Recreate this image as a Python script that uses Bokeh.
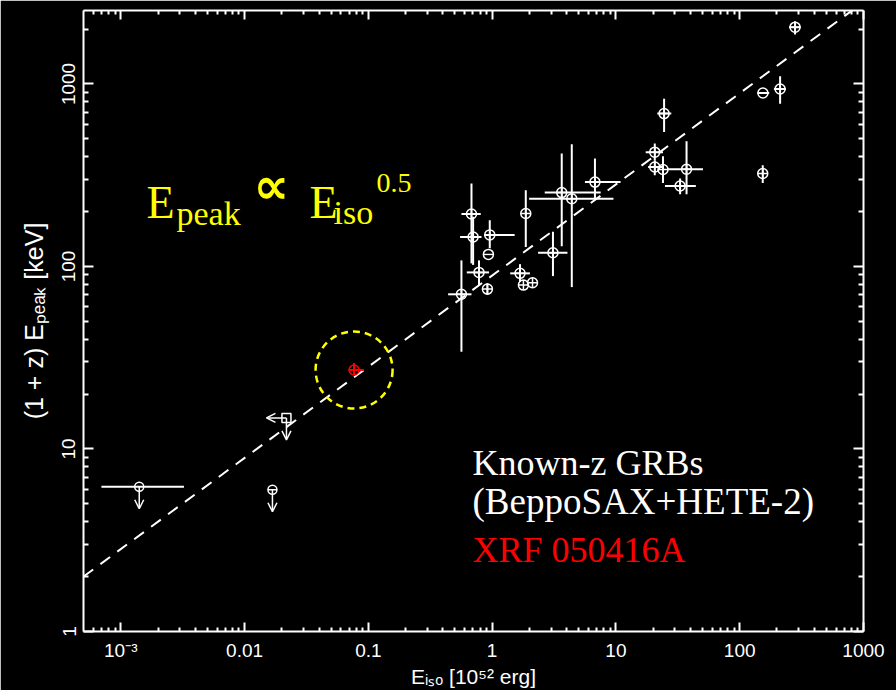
from math import pi
from bokeh.plotting import figure
from bokeh.models import (ColumnDataSource, FixedTicker, LogAxis, CustomJSTickFormatter,
                          Label, Arrow, OpenHead, Range1d)
from bokeh.embed import file_html
from bokeh.resources import INLINE

# ---------------- data ----------------
# Known-z GRBs (BeppoSAX + HETE-2): Eiso [1e52 erg], (1+z) Epeak [keV]
grb_x   = [0.681, 0.702, 0.957, 0.783, 0.916, 0.565, 1.87, 1.68, 1.79, 2.12, 3.10, 3.65, 4.40, 6.77,
           24.5, 20.6, 20.6, 24.0, 37.2, 33.0, 153.5, 212, 280]
grb_y   = [194, 145, 149, 92.8, 75.2, 70.4, 195, 91.7, 79.1, 81.4, 119, 254, 235, 290,
           688, 423, 351, 340, 341, 276, 323, 938, 2048]
grb_xlo = [0.565, 0.551, 0.861, 0.624, 0.916, 0.441, 1.87, 1.40, 1.79, 2.12, 2.35, 2.66, 1.99, 5.62,
           21.6, 17.4, 18.2, 24.0, 26.1, 24.9, 153.5, 189, 250]
grb_xhi = [0.809, 0.820, 1.52, 0.944, 0.916, 0.681, 1.87, 2.02, 1.79, 2.12, 4.06, 7.53, 9.55, 10.9,
           28.0, 24.0, 23.7, 24.0, 50.5, 44.2, 153.5, 236, 311]
grb_ylo = [104, 102, 126, 79.1, 69.8, 34.1, 128, 82.5, 79.1, 81.4, 88.6, 129, 77.1, 231,
           546, 382, 316, 287, 249, 249, 287, 780, 1868]
grb_yhi = [285, 187, 179, 108, 80.9, 108, 262, 103, 79.1, 81.4, 155, 416, 468, 390,
           831, 472, 382, 402, 486, 303, 359, 1101, 2208]

# GRBs drawn with a barred-circle symbol
theta_x   = [0.933, 154]
theta_y   = [116.5, 892]
theta_xlo = [0.933, 139]
theta_xhi = [0.933, 173]

# Upper limits
ul_x   = [1.41e-3, 0.0168, 0.0218]
ul_y   = [6.21, 5.98, 14.8]
ul_xlo = [6.98e-4, 0.0168, 0.0218]
ul_xhi = [3.24e-3, 0.0168, 0.0218]
ul_marker = ["circle", "circle", "square"]
ul_left_arrow_x = [0.0218]      # x upper limit (left arrow)
ul_left_arrow_y = [14.8]

# XRF 050416A
xrf_x, xrf_y = [0.0767], [27.1]
xrf_xlo, xrf_xhi = [0.0695], [0.0922]
xrf_ylo, xrf_yhi = [25.5], [29.6]

# Epeak ~ Eiso^0.5 relation (end points)
fit_x = [5.0e-4, 1000]
fit_y = [2.0, 2810]

x_ticks = [1e-3, 1e-2, 1e-1, 1, 10, 100, 1000]
x_tick_labels = ["10\u207b\u00b3", "0.01", "0.1", "1", "10", "100", "1000"]
y_ticks = [1, 10, 100, 1000]
y_tick_labels = ["1", "10", "100", "1000"]
x_title = "E\u1d62\u209b\u2092 [10\u2075\u00b2 erg]"
y_title = "(1 + z) E\u209a\u2091\u2090\u2096 [keV]"

# ---------------- figure ----------------
L, B = 83, 632   # frame left / bottom in canvas pixels
p = figure(width=896, height=690, x_axis_type="log", y_axis_type="log",
           x_range=Range1d(5.0e-4, 1000), y_range=Range1d(1, 2527),
           output_backend="svg", toolbar_location=None,
           min_border_left=L, min_border_right=896 - 863, min_border_top=10,
           min_border_bottom=690 - B,
           background_fill_color="black", border_fill_color="black",
           outline_line_color=None)
p.grid.visible = False

x_minor = [6e-4, 7e-4, 8e-4, 9e-4] + [k * 10.0 ** e for e in range(-3, 3) for k in range(2, 10)]
y_minor = [k * 10.0 ** e for e in range(0, 3) for k in range(2, 10)] + [2000]

fmt_code = """
let best = 0, bd = Infinity;
for (let i = 0; i < tvals.length; i++) {
  const d = Math.abs(Math.log10(tick) - Math.log10(tvals[i]));
  if (d < bd) { bd = d; best = i; }
}
return tlabels[best];
"""

def style_axis(ax, ticks, minor, labels, maj_len):
    ax.ticker = FixedTicker(ticks=ticks, minor_ticks=minor)
    ax.axis_line_color = "white"
    ax.axis_line_width = 2
    ax.major_tick_line_color = "white"
    ax.major_tick_line_width = 2
    ax.minor_tick_line_color = "white"
    ax.minor_tick_line_width = 2
    ax.major_tick_in = maj_len
    ax.major_tick_out = 0
    ax.minor_tick_in = maj_len // 2
    ax.minor_tick_out = 0
    if labels is not None:
        ax.formatter = CustomJSTickFormatter(args=dict(tvals=ticks, tlabels=labels), code=fmt_code)
        ax.major_label_text_color = "white"
        ax.major_label_text_font = "Liberation Sans"
        ax.major_label_text_font_size = "19px"
        ax.major_label_standoff = 8
    else:
        ax.formatter = CustomJSTickFormatter(code="return '';")
        ax.major_label_text_font_size = "0px"
        ax.major_label_standoff = 0
        ax.axis_label = None

style_axis(p.xaxis[0], x_ticks, x_minor, x_tick_labels, 9)
style_axis(p.yaxis[0], y_ticks, y_minor, y_tick_labels, 10)
p.yaxis[0].major_label_orientation = "vertical"

for ax, title, size, stand in ((p.xaxis[0], x_title, "21px", 1), (p.yaxis[0], y_title, "25px", 12)):
    ax.axis_label = title
    ax.axis_label_text_color = "white"
    ax.axis_label_text_font = "Liberation Sans"
    ax.axis_label_text_font_size = size
    ax.axis_label_text_font_style = "normal"
    ax.axis_label_standoff = stand

top = LogAxis()
style_axis(top, x_ticks, x_minor, None, 9)
p.add_layout(top, "above")
right = LogAxis()
style_axis(right, y_ticks, y_minor, None, 10)
p.add_layout(right, "right")

# relation line
p.line(fit_x, fit_y, line_color="white", line_width=2, line_dash="12 9")

# error bars
p.segment(grb_xlo, grb_y, grb_xhi, grb_y, line_color="white", line_width=2)
p.segment(grb_x, grb_ylo, grb_x, grb_yhi, line_color="white", line_width=2)
p.segment(theta_xlo, theta_y, theta_xhi, theta_y, line_color="white", line_width=2)
p.segment(ul_xlo, ul_y, ul_xhi, ul_y, line_color="white", line_width=2)

# markers
p.scatter(grb_x, grb_y, marker="circle_cross", size=10, line_color="white",
          fill_color=None, line_width=1.5)
p.scatter(theta_x, theta_y, marker="circle", size=10, line_color="white",
          fill_color=None, line_width=1.5)
p.scatter(theta_x, theta_y, marker="dash", size=10, line_color="white", line_width=1.5)
p.scatter(ul_x, ul_y, marker=ul_marker, size=9, line_color="white",
          fill_color=None, line_width=1.5)
p.scatter(ul_x[1:2], ul_y[1:2], marker="dash", size=9, line_color="white", line_width=1.5)

# upper-limit arrows
down = 10 ** (-22 / 182.8)
ul_src = ColumnDataSource(dict(x=ul_x, y=ul_y, ye=[v * down for v in ul_y]))
p.add_layout(Arrow(x_start="x", y_start="y", x_end="x", y_end="ye", source=ul_src,
                   line_color="white", line_width=1.5,
                   end=OpenHead(size=9, line_color="white", line_width=1.5)))
left = 10 ** (-20 / 123.8)
la_src = ColumnDataSource(dict(x=ul_left_arrow_x, y=ul_left_arrow_y,
                               xe=[v * left for v in ul_left_arrow_x]))
p.add_layout(Arrow(x_start="x", y_start="y", x_end="xe", y_end="y", source=la_src,
                   line_color="white", line_width=1.5,
                   end=OpenHead(size=9, line_color="white", line_width=1.5)))

# XRF 050416A
p.segment(xrf_xlo, xrf_y, xrf_xhi, xrf_y, line_color="red", line_width=2)
p.segment(xrf_x, xrf_ylo, xrf_x, xrf_yhi, line_color="red", line_width=2)
p.scatter(xrf_x, xrf_y, marker="circle_cross", size=10, line_color="red",
          fill_color=None, line_width=1.5)
p.scatter(xrf_x, xrf_y, marker="circle", size=77, line_color="#FFFF00",
          fill_color=None, line_width=2.5, line_dash="7 5")

# ---------------- texts ----------------
def txt(t, cx, cy, size, color="white", font="Liberation Serif", angle=0.0,
        baseline="alphabetic", style="normal"):
    p.add_layout(Label(x=cx - L, y=B - cy, x_units="screen", y_units="screen", text=t,
                       text_font=font, text_font_size=f"{size}px", text_color=color,
                       angle=angle, text_align="left", text_baseline=baseline,
                       text_font_style=style))

Y = "#FFFF00"
txt("E", 146, 203, 46, Y)
txt("peak", 176, 214, 34, Y)
txt("\u221d", 253, 186, 50, Y, font="DejaVu Sans", baseline="middle", style="bold")
txt("E", 309, 203, 46, Y)
txt("iso", 333, 213, 34, Y)
txt("0.5", 376, 183, 28, Y)

txt("Known-z GRBs", 472, 463, 36)
txt("(BeppoSAX+HETE-2)", 472, 502, 37)
txt("XRF 050416A", 472, 550, 36, "#FF0000")

open("out.html", "w").write(file_html(p, INLINE))
